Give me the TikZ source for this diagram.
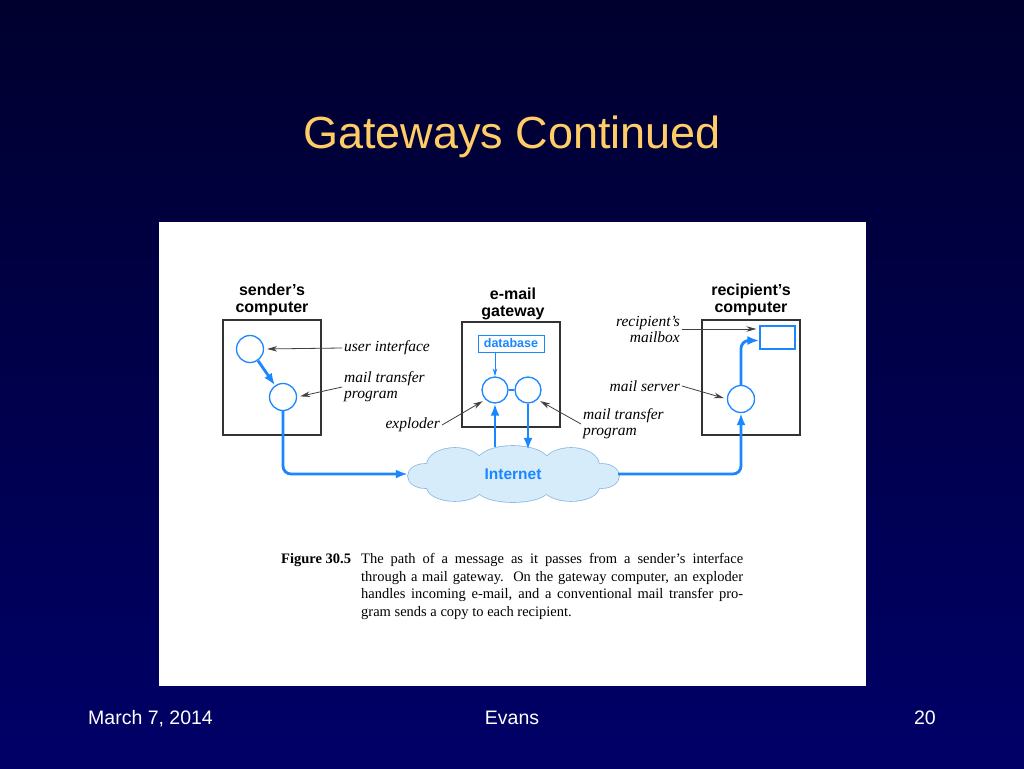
\documentclass[tikz,border=0pt]{standalone}
\usepackage{fontspec}
\setmainfont{Liberation Serif}
\setsansfont{Liberation Sans}
\usetikzlibrary{arrows.meta,calc}
\definecolor{slidetop}{RGB}{0,0,46}
\definecolor{slidebot}{RGB}{0,0,104}
\definecolor{titlegold}{RGB}{255,204,102}
\definecolor{netblue}{RGB}{25,135,255}
\definecolor{cloudfill}{RGB}{214,236,250}
\definecolor{cloudedge}{RGB}{140,185,228}
\tikzset{
	>=Latex,
	machine/.style={draw=black!80, line width=1.4pt, minimum width=98pt, minimum height=115pt},
	hdr/.style={font=\sffamily\bfseries\fontsize{16}{16.5}\selectfont, align=center},
	proc/.style={circle, draw=netblue, line width=1.3pt, minimum size=27pt, inner sep=0pt, fill=white},
	flow/.style={netblue, line width=2.8pt, rounded corners=8pt, -{Latex[length=12pt,width=9pt]}},
	note/.style={font=\itshape\fontsize{15.5}{16}\selectfont, inner sep=2pt},
	pointer/.style={black!75, line width=0.8pt, shorten >=3pt, -{Stealth[length=10pt,width=5.5pt]}},
	foot/.style={white, font=\sffamily\fontsize{19.5}{20}\selectfont, inner sep=0pt}
}
\begin{document}
\begin{tikzpicture}[x=1pt,y=-1pt]
	\useasboundingbox (0,0) rectangle (1024,768);
	
	% slide background and title
	\fill[top color=slidetop, bottom color=slidebot] (0,0) rectangle (1024,768);
	\node[titlegold, font=\sffamily\fontsize{45}{50}\selectfont] (title) at (512,137) {Gateways Continued};
	
	% figure panel
	\fill[white] (159,222) rectangle (866,686);
	
	% sender's computer
	\node[machine] (snd) at (272,377.5) {};
	\node[hdr] (sndhdr) at (272,300) {sender's\\computer};
	\node[proc] (ui) at (250,349) {};
	\node[proc] (smtp) at (283,397) {};
	\node[note, anchor=west] (uitxt) at (342,348) {user interface};
	\node[note, anchor=west, align=left] (smtptxt) at (342,387) {mail transfer\\program};
	
	% e-mail gateway
	\node[machine, minimum height=105pt] (gw) at (511,374.5) {};
	\node[hdr] (gwhdr) at (513,304) {e-mail\\gateway};
	\node[draw=netblue, line width=1pt, text=netblue, inner sep=0pt, minimum width=66pt, minimum height=17pt,
	font=\sffamily\bfseries\fontsize{12.5}{13}\selectfont] (db) at (511,343.5) {database};
	\node[proc, minimum size=26pt] (expl) at (495,390) {};
	\node[proc, minimum size=26pt] (gmtp) at (528,390) {};
	\node[note, anchor=east] (expltxt) at (442,425) {exploder};
	\node[note, anchor=west, align=left] (gmtptxt) at (581,424) {mail transfer\\program};
	
	% recipient's computer
	\node[machine] (rcv) at (751,377.5) {};
	\node[hdr] (rcvhdr) at (751,300) {recipient's\\computer};
	\node[draw=netblue, line width=1.3pt, minimum width=35pt, minimum height=23pt, inner sep=0pt] (mbox) at (777.5,337.5) {};
	\node[proc] (srv) at (741,399) {};
	\node[note, anchor=east, align=right] (mbtxt) at (682,329) {recipient's\\mailbox};
	\node[note, anchor=east] (srvtxt) at (682,386) {mail server};
	
	% internet cloud: outline of the puffs first, then the fill over it
	\def\puffs{425/476/17/12, 455/465/28/17, 513/462/36/16, 571/465/28/17, 602/476/17/12,
		455/487/28/14, 513/489/36/13, 571/487/28/14, 513/475/80/20}
	\foreach \cx/\cy/\rx/\ry in \puffs
	\draw[cloudedge, line width=1.6pt] (\cx,\cy) ellipse [x radius=\rx, y radius=\ry];
	\foreach \cx/\cy/\rx/\ry in \puffs
	\fill[cloudfill] (\cx,\cy) ellipse [x radius=\rx, y radius=\ry];
	\node[minimum width=210pt, minimum height=54pt, inner sep=0pt, text=netblue,
	font=\sffamily\bfseries\fontsize{15.5}{16}\selectfont] (net) at (513,474) {Internet};
	
	% message path
	\draw[flow] (ui) -- (smtp);
	\draw[flow] (smtp.south) |- (net.west);
	\draw[flow] (expl.south |- net.north) -- (expl.south);
	\draw[netblue, line width=1.3pt] (expl) -- (gmtp);
	\draw[flow] (gmtp.south) -- ($(gmtp.south |- net.north)+(0,3)$);
	\draw[flow] (net.east) -| (srv.south);
	\draw[flow] (srv.north) |- ($(mbox.west)+(0,3)$);
	\draw[netblue, line width=0.8pt, -{Stealth[length=8pt,width=4.5pt]}] (db.south -| expl) -- (expl.north);
	
	% pointers from the labels
	\draw[pointer] (uitxt.west) -- (ui.east);
	\draw[pointer] (smtptxt.west) -- (smtp.east);
	\draw[pointer] (expltxt.east) -- (expl.south west);
	\draw[pointer] (gmtptxt.west) -- (gmtp.south east);
	\draw[pointer] (mbtxt.east) -- (mbtxt.east -| mbox.west);
	\draw[pointer] (srvtxt.east) -- (srv.west);
	
	% caption
	\node[anchor=base west, inner sep=0pt, font=\bfseries\fontsize{14.5}{17.7}\selectfont] (fig) at (281,563) {Figure 30.5};
	\node[anchor=north west, inner sep=0pt, text width=382pt, align=justify,
	font=\fontsize{14.5}{17.7}\selectfont] (cap) at (361,553)
	{The path of a message as it passes from a sender's interface\linebreak
		through a mail gateway.\ \ On the gateway computer, an exploder\linebreak
		handles incoming e-mail, and a conventional mail transfer pro-\linebreak
		gram sends a copy to each recipient.};
	
	% footer
	\node[foot, anchor=base west] (date) at (88,724) {March 7, 2014};
	\node[foot, anchor=base] (auth) at (512,724) {Evans};
	\node[foot, anchor=base east] (page) at (936,724) {20};
\end{tikzpicture}
\end{document}
